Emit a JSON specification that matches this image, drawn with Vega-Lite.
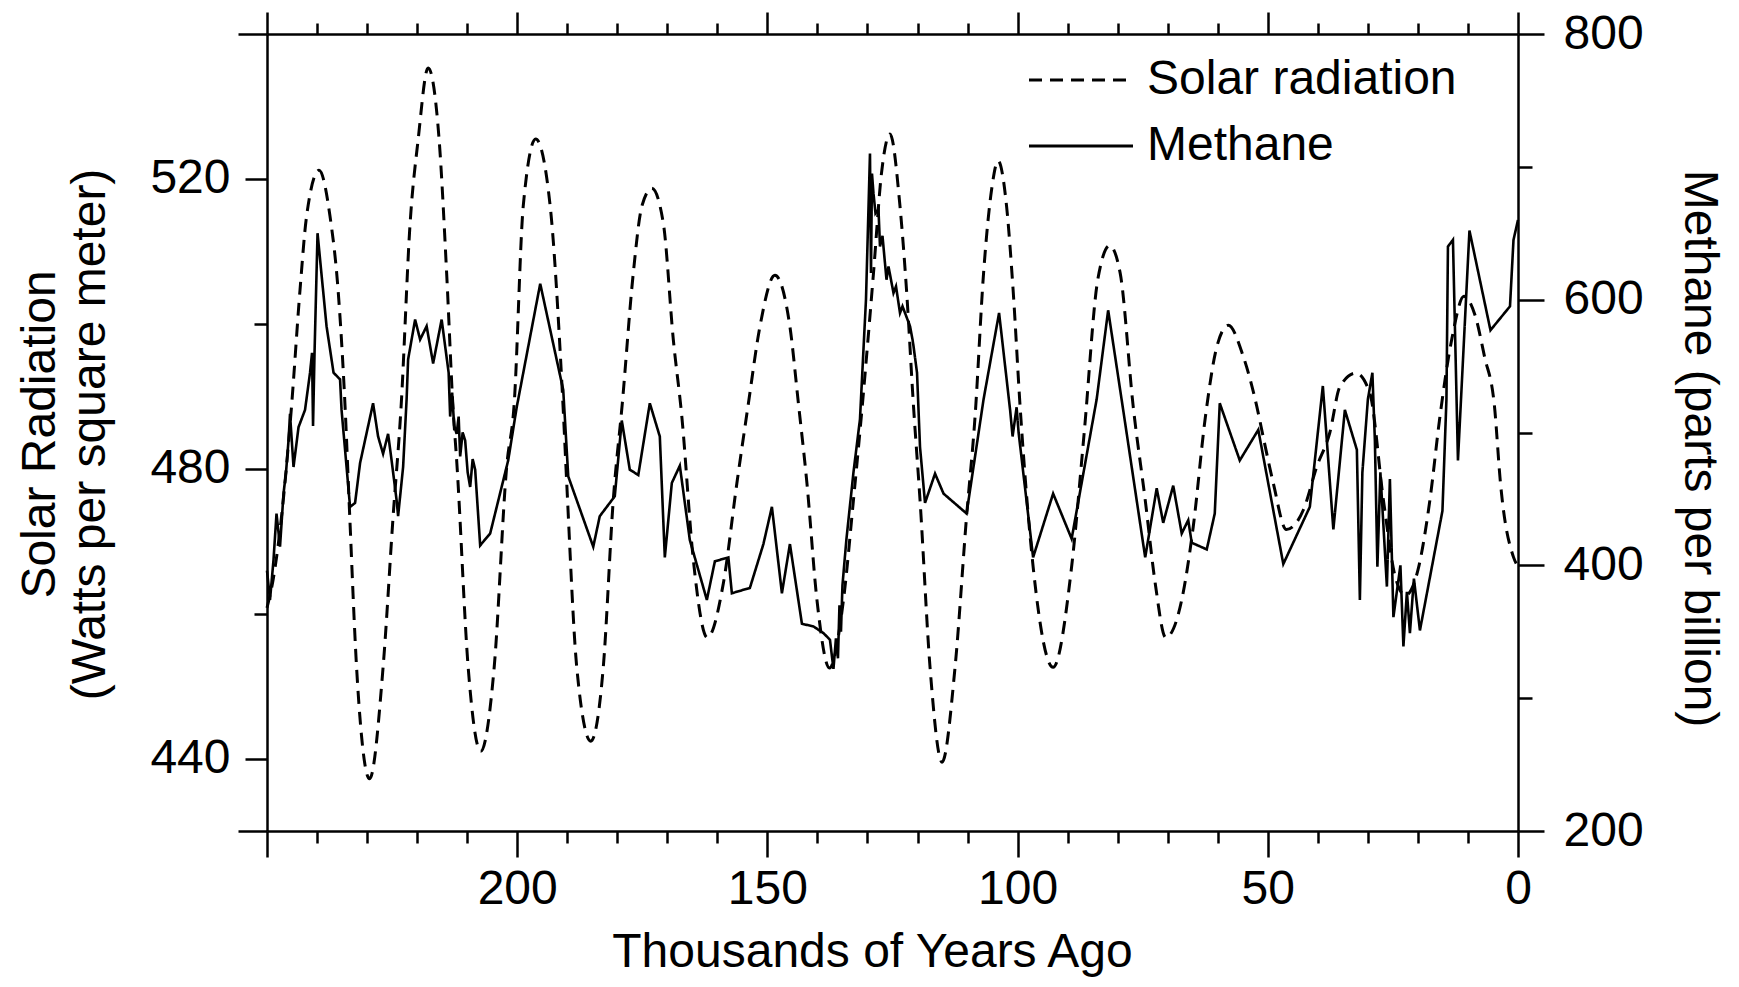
{
  "$schema": "https://vega.github.io/schema/vega-lite/v6.json",
  "width": 1251,
  "height": 797,
  "autosize": {"type": "none"},
  "padding": {"left": 267, "top": 34, "right": 221, "bottom": 156},
  "background": "white",
  "config": {
    "view": {"stroke": null},
    "font": "Liberation Sans",
    "axis": {
      "domainColor": "black", "domainWidth": 2.5, "tickColor": "black", "tickWidth": 2.5,
      "labelColor": "black", "titleColor": "black", "labelFont": "Liberation Sans", "titleFont": "Liberation Sans",
      "labelFontSize": 48, "titleFontSize": 48, "titleFontWeight": "normal", "grid": false,
      "labelFlush": false, "labelOverlap": false, "labelBound": false
    }
  },
  "datasets": {
    "solar": [
      {"kyr":250,"wm2":460.8},{"kyr":248.7,"wm2":465},{"kyr":247,"wm2":474},{"kyr":245.1,"wm2":488.6},{"kyr":243.4,"wm2":504.7},{"kyr":242.1,"wm2":514.8},{"kyr":239.6,"wm2":521.2},{"kyr":237.4,"wm2":514.8},{"kyr":235.8,"wm2":504.7},{"kyr":234.4,"wm2":488.6},{"kyr":233.5,"wm2":474},{"kyr":232.1,"wm2":452.6},{"kyr":229.5,"wm2":437.2},{"kyr":226.8,"wm2":452.6},{"kyr":224.8,"wm2":473.4},{"kyr":223.2,"wm2":488.6},{"kyr":221.4,"wm2":513.9},{"kyr":219.8,"wm2":525.4},{"kyr":217.8,"wm2":535.3},{"kyr":215.6,"wm2":525.4},{"kyr":214.1,"wm2":507},{"kyr":212.8,"wm2":488.1},{"kyr":212.1,"wm2":481.2},{"kyr":209.8,"wm2":452.6},{"kyr":207.3,"wm2":441},{"kyr":204.6,"wm2":452.6},{"kyr":202.1,"wm2":480.3},{"kyr":200.6,"wm2":489},{"kyr":198.8,"wm2":516.2},{"kyr":196.3,"wm2":525.5},{"kyr":193.4,"wm2":516.2},{"kyr":191.4,"wm2":496},{"kyr":190.8,"wm2":488.1},{"kyr":190.1,"wm2":478},{"kyr":188.1,"wm2":452.6},{"kyr":185.3,"wm2":442.4},{"kyr":182.8,"wm2":452.6},{"kyr":180.8,"wm2":475.7},{"kyr":179,"wm2":489},{"kyr":176.8,"wm2":507},{"kyr":175.1,"wm2":516.2},{"kyr":173.1,"wm2":518.7},{"kyr":170.8,"wm2":513.9},{"kyr":168.8,"wm2":497.8},{"kyr":167.1,"wm2":487.2},{"kyr":164.8,"wm2":467.4},{"kyr":162,"wm2":456.7},{"kyr":158.8,"wm2":464.2},{"kyr":156.1,"wm2":478},{"kyr":153.8,"wm2":489},{"kyr":151.5,"wm2":499.6},{"kyr":148.5,"wm2":506.7},{"kyr":145.5,"wm2":499.6},{"kyr":143.8,"wm2":489},{"kyr":142.1,"wm2":478},{"kyr":140.1,"wm2":461.9},{"kyr":137.6,"wm2":452.5},{"kyr":134.8,"wm2":461.9},{"kyr":132.8,"wm2":475.7},{"kyr":131,"wm2":489},{"kyr":128.8,"wm2":507},{"kyr":127.2,"wm2":520.8},{"kyr":125.5,"wm2":526.2},{"kyr":123.5,"wm2":516.2},{"kyr":122.2,"wm2":504.7},{"kyr":120.8,"wm2":488.6},{"kyr":119.5,"wm2":475.7},{"kyr":117.5,"wm2":452.6},{"kyr":115.1,"wm2":439.5},{"kyr":112.5,"wm2":452.6},{"kyr":110.2,"wm2":473.4},{"kyr":108.5,"wm2":487.2},{"kyr":106.8,"wm2":507},{"kyr":105.2,"wm2":518.5},{"kyr":103.9,"wm2":522.5},{"kyr":102.2,"wm2":516.2},{"kyr":100.9,"wm2":504.7},{"kyr":99.5,"wm2":488.6},{"kyr":96.9,"wm2":466.5},{"kyr":92.9,"wm2":452.6},{"kyr":89.2,"wm2":466.5},{"kyr":86.7,"wm2":484.9},{"kyr":84,"wm2":506},{"kyr":81.6,"wm2":510.8},{"kyr":79.5,"wm2":507},{"kyr":76.9,"wm2":488.6},{"kyr":74.5,"wm2":475.7},{"kyr":72.5,"wm2":464.2},{"kyr":70.4,"wm2":456.7},{"kyr":67.2,"wm2":461.9},{"kyr":64.9,"wm2":472},{"kyr":62.5,"wm2":487},{"kyr":60.2,"wm2":496.8},{"kyr":57.9,"wm2":499.8},{"kyr":54.9,"wm2":495.5},{"kyr":52.2,"wm2":488.6},{"kyr":50.8,"wm2":484},{"kyr":48.9,"wm2":478},{"kyr":46.3,"wm2":471.6},{"kyr":42.9,"wm2":474.3},{"kyr":40.2,"wm2":480.3},{"kyr":37.6,"wm2":485},{"kyr":35.6,"wm2":491.3},{"kyr":32.4,"wm2":493.2},{"kyr":29.6,"wm2":490.4},{"kyr":26.9,"wm2":475.7},{"kyr":24.5,"wm2":465},{"kyr":22.5,"wm2":462.5},{"kyr":20,"wm2":466},{"kyr":17.6,"wm2":475.7},{"kyr":15.6,"wm2":487.2},{"kyr":13.2,"wm2":498},{"kyr":10.8,"wm2":503.8},{"kyr":8.5,"wm2":501},{"kyr":6.7,"wm2":495.5},{"kyr":4.7,"wm2":488.6},{"kyr":3.5,"wm2":478},{"kyr":0.9,"wm2":467.8},{"kyr":0,"wm2":466.5}
    ],
    "methane": [
      {"kyr":250,"ppb":396},{"kyr":249.4,"ppb":374},{"kyr":248.7,"ppb":404},{"kyr":248.1,"ppb":439},{"kyr":247.4,"ppb":414},{"kyr":246.7,"ppb":454},{"kyr":246.2,"ppb":470},{"kyr":245.7,"ppb":494},{"kyr":245.4,"ppb":514},{"kyr":244.7,"ppb":474},{"kyr":243.7,"ppb":504},{"kyr":242.4,"ppb":517},{"kyr":241.4,"ppb":545},{"kyr":241.0,"ppb":560},{"kyr":240.8,"ppb":505},{"kyr":240.5,"ppb":560},{"kyr":239.9,"ppb":650},{"kyr":238.1,"ppb":580},{"kyr":236.7,"ppb":545},{"kyr":235.4,"ppb":540},{"kyr":235.1,"ppb":517},{"kyr":233.4,"ppb":444},{"kyr":232.4,"ppb":447},{"kyr":231.4,"ppb":477},{"kyr":228.8,"ppb":522},{"kyr":227.8,"ppb":497},{"kyr":226.8,"ppb":484},{"kyr":225.8,"ppb":499},{"kyr":225.1,"ppb":479},{"kyr":224.1,"ppb":449},{"kyr":223.8,"ppb":437},{"kyr":222.8,"ppb":474},{"kyr":222.1,"ppb":525},{"kyr":221.8,"ppb":555},{"kyr":220.4,"ppb":585},{"kyr":219.4,"ppb":570},{"kyr":218.1,"ppb":580},{"kyr":216.8,"ppb":552},{"kyr":215.1,"ppb":585},{"kyr":214.4,"ppb":565},{"kyr":213.7,"ppb":545},{"kyr":213.4,"ppb":512},{"kyr":213.0,"ppb":530},{"kyr":212.6,"ppb":505},{"kyr":212.1,"ppb":499},{"kyr":211.7,"ppb":512},{"kyr":211.4,"ppb":482},{"kyr":210.9,"ppb":500},{"kyr":210.4,"ppb":494},{"kyr":209.9,"ppb":470},{"kyr":209.4,"ppb":459},{"kyr":208.9,"ppb":480},{"kyr":208.4,"ppb":472},{"kyr":207.4,"ppb":415},{"kyr":205.4,"ppb":424},{"kyr":201.8,"ppb":479},{"kyr":200.1,"ppb":519},{"kyr":195.4,"ppb":612},{"kyr":190.8,"ppb":532},{"kyr":189.8,"ppb":467},{"kyr":184.8,"ppb":414},{"kyr":183.5,"ppb":437},{"kyr":180.5,"ppb":452},{"kyr":179.1,"ppb":509},{"kyr":177.5,"ppb":472},{"kyr":175.8,"ppb":468},{"kyr":173.5,"ppb":522},{"kyr":171.5,"ppb":497},{"kyr":170.5,"ppb":406},{"kyr":169.1,"ppb":462},{"kyr":167.5,"ppb":475},{"kyr":165.5,"ppb":419},{"kyr":162.1,"ppb":374},{"kyr":160.5,"ppb":403},{"kyr":157.8,"ppb":406},{"kyr":157.1,"ppb":379},{"kyr":153.5,"ppb":383},{"kyr":150.8,"ppb":416},{"kyr":149.1,"ppb":444},{"kyr":147.1,"ppb":379},{"kyr":145.5,"ppb":416},{"kyr":143.1,"ppb":356},{"kyr":140.8,"ppb":354},{"kyr":138.8,"ppb":349},{"kyr":137.5,"ppb":344},{"kyr":136.8,"ppb":322},{"kyr":136.3,"ppb":345},{"kyr":135.9,"ppb":330},{"kyr":135.6,"ppb":370},{"kyr":135.3,"ppb":350},{"kyr":135.0,"ppb":385},{"kyr":134.2,"ppb":420},{"kyr":132.8,"ppb":470},{"kyr":131.5,"ppb":510},{"kyr":130.3,"ppb":600},{"kyr":129.5,"ppb":710},{"kyr":129.3,"ppb":620},{"kyr":129.1,"ppb":695},{"kyr":128.8,"ppb":680},{"kyr":128.4,"ppb":665},{"kyr":127.8,"ppb":668},{"kyr":127.5,"ppb":640},{"kyr":127.0,"ppb":648},{"kyr":126.2,"ppb":615},{"kyr":125.8,"ppb":625},{"kyr":124.8,"ppb":605},{"kyr":124.3,"ppb":610},{"kyr":123.5,"ppb":590},{"kyr":123.0,"ppb":595},{"kyr":121.5,"ppb":580},{"kyr":121.0,"ppb":570},{"kyr":120.8,"ppb":565},{"kyr":120.1,"ppb":545},{"kyr":119.8,"ppb":517},{"kyr":119.5,"ppb":489},{"kyr":118.5,"ppb":447},{"kyr":116.5,"ppb":469},{"kyr":114.8,"ppb":454},{"kyr":110.2,"ppb":439},{"kyr":106.8,"ppb":525},{"kyr":103.7,"ppb":590},{"kyr":101.5,"ppb":517},{"kyr":101.0,"ppb":497},{"kyr":100.2,"ppb":519},{"kyr":99.8,"ppb":500},{"kyr":96.9,"ppb":406},{"kyr":92.9,"ppb":454},{"kyr":89.2,"ppb":420},{"kyr":84.2,"ppb":525},{"kyr":81.9,"ppb":592},{"kyr":78.9,"ppb":517},{"kyr":74.5,"ppb":406},{"kyr":72.2,"ppb":458},{"kyr":70.9,"ppb":432},{"kyr":68.9,"ppb":460},{"kyr":67.2,"ppb":424},{"kyr":65.9,"ppb":434},{"kyr":65.2,"ppb":417},{"kyr":62.2,"ppb":412},{"kyr":60.6,"ppb":439},{"kyr":59.6,"ppb":522},{"kyr":55.6,"ppb":479},{"kyr":51.9,"ppb":502},{"kyr":46.9,"ppb":401},{"kyr":41.6,"ppb":444},{"kyr":39.0,"ppb":535},{"kyr":36.9,"ppb":427},{"kyr":34.6,"ppb":517},{"kyr":32.2,"ppb":487},{"kyr":31.6,"ppb":374},{"kyr":31.1,"ppb":470},{"kyr":30.0,"ppb":525},{"kyr":29.1,"ppb":545},{"kyr":28.6,"ppb":494},{"kyr":28.1,"ppb":399},{"kyr":27.5,"ppb":470},{"kyr":26.2,"ppb":384},{"kyr":25.6,"ppb":465},{"kyr":24.9,"ppb":361},{"kyr":23.5,"ppb":400},{"kyr":22.9,"ppb":339},{"kyr":22.2,"ppb":380},{"kyr":21.6,"ppb":349},{"kyr":20.8,"ppb":390},{"kyr":19.6,"ppb":351},{"kyr":15.1,"ppb":441},{"kyr":14.3,"ppb":525},{"kyr":14.0,"ppb":640},{"kyr":13.0,"ppb":645},{"kyr":12.0,"ppb":479},{"kyr":9.7,"ppb":652},{"kyr":5.5,"ppb":577},{"kyr":1.6,"ppb":595},{"kyr":0.9,"ppb":645},{"kyr":0,"ppb":660}
    ]
  },
  "layer": [
    {
      "data": {"name": "solar"},
      "mark": {"type": "line", "color": "black", "strokeWidth": 3, "interpolate": "monotone"},
      "encoding": {
        "x": {
          "field": "kyr", "type": "quantitative",
          "scale": {"domain": [0, 250], "reverse": true, "nice": false, "zero": false},
          "axis": {
            "orient": "bottom",
            "values": [0,10,20,30,40,50,60,70,80,90,100,110,120,130,140,150,160,170,180,190,200,210,220,230,240,250],
            "labelExpr": "datum.value % 50 === 0 && datum.value < 250 ? datum.value : ''",
            "tickSize": {"condition": {"test": "datum.value % 50 === 0", "value": 26}, "value": 12},
            "labelPadding": 8,
            "title": "Thousands of Years Ago",
            "titleX": 605, "titleY": 135, "titleBaseline": "alphabetic", "titleAlign": "center"
          }
        },
        "y": {
          "field": "wm2", "type": "quantitative",
          "scale": {"domain": [430, 540], "nice": false, "zero": false},
          "axis": {
            "orient": "left",
            "values": [430,440,460,480,500,520,540],
            "labelExpr": "datum.value % 40 === 0 ? datum.value : ''",
            "tickSize": {"condition": [{"test": "datum.value === 430 || datum.value === 540", "value": 29}, {"test": "datum.value % 40 === 0", "value": 22}], "value": 13},
            "labelPadding": 15,
            "title": ["Solar Radiation", "(Watts per square meter)"],
            "titleAngle": -90, "titleX": -227, "titleY": 400, "titleBaseline": "middle", "titleAlign": "center", "titleLineHeight": 50
          }
        },
        "strokeDash": {
          "datum": "Solar radiation", "type": "nominal",
          "scale": {"domain": ["Solar radiation", "Methane"], "range": [[13, 8], [1, 0]]},
          "legend": {
            "orient": "none", "legendX": 790, "legendY": 22, "title": null,
            "symbolType": "M-4,0H4", "symbolSize": 676, "symbolStrokeWidth": 3, "symbolStrokeColor": "black",
            "labelFontSize": 48, "labelFont": "Liberation Sans", "labelColor": "black", "labelOffset": 42,
            "labelLimit": 0, "rowPadding": 18
          }
        }
      }
    },
    {
      "data": {"name": "methane"},
      "mark": {"type": "line", "color": "black", "strokeWidth": 2.6},
      "encoding": {
        "x": {
          "field": "kyr", "type": "quantitative",
          "axis": {
            "orient": "top",
            "values": [0,10,20,30,40,50,60,70,80,90,100,110,120,130,140,150,160,170,180,190,200,210,220,230,240,250],
            "labels": false,
            "tickSize": {"condition": {"test": "datum.value % 50 === 0", "value": 22}, "value": 11},
            "title": null
          }
        },
        "y": {
          "field": "ppb", "type": "quantitative",
          "scale": {"domain": [200, 800], "nice": false, "zero": false},
          "axis": {
            "orient": "right",
            "values": [200,300,400,500,600,700,800],
            "labelExpr": "datum.value % 200 === 0 ? datum.value : ''",
            "tickSize": {"condition": {"test": "datum.value % 200 === 0", "value": 26}, "value": 14},
            "labelPadding": 19,
            "title": "Methane (parts per billion)",
            "titleAngle": 90, "titleX": 180, "titleY": 414, "titleBaseline": "middle", "titleAlign": "center"
          }
        },
        "strokeDash": {"datum": "Methane", "type": "nominal"}
      }
    }
  ],
  "resolve": {"scale": {"y": "independent"}, "axis": {"x": "independent", "y": "independent"}}
}
